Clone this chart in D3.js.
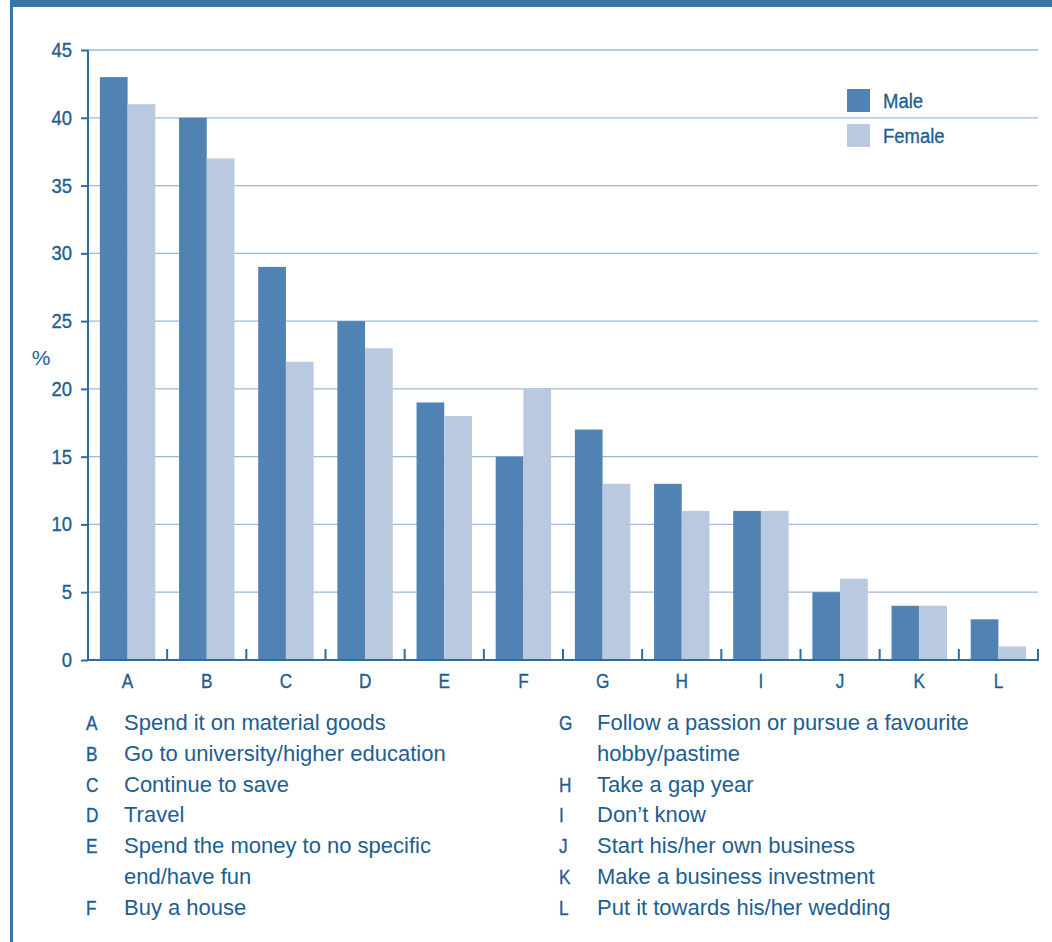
<!DOCTYPE html>
<html>
<head>
<meta charset="utf-8">
<script src="https://cdn.jsdelivr.net/npm/d3@7"></script>
<style>
  html, body { margin: 0; padding: 0; background: #fff; }
  svg { display: block; }
</style>
</head>
<body>
<svg id="chart" width="1052" height="942"></svg>
<script>
// Survey answers: what young people would do with a windfall, by gender (%)
const categories = ["A", "B", "C", "D", "E", "F", "G", "H", "I", "J", "K", "L"];
const maleValues   = [43, 40, 29, 25, 19, 15, 17, 13, 11, 5, 4, 3];
const femaleValues = [41, 37, 22, 23, 18, 20, 13, 11, 11, 6, 4, 1];
const seriesNames  = ["Male", "Female"];
const yTicks = [0, 5, 10, 15, 20, 25, 30, 35, 40, 45];

const keyLeft = [
  ["A", ["Spend it on material goods"]],
  ["B", ["Go to university/higher education"]],
  ["C", ["Continue to save"]],
  ["D", ["Travel"]],
  ["E", ["Spend the money to no specific", "end/have fun"]],
  ["F", ["Buy a house"]]
];
const keyRight = [
  ["G", ["Follow a passion or pursue a favourite", "hobby/pastime"]],
  ["H", ["Take a gap year"]],
  ["I", ["Don\u2019t know"]],
  ["J", ["Start his/her own business"]],
  ["K", ["Make a business investment"]],
  ["L", ["Put it towards his/her wedding"]]
];

const colors = { Male: "#5083b3", Female: "#b8c9e0" };
const axisColor = "#2c6ca1";
const gridColor = "#9db9da";
const textColor = "#1d5e92";
const font = "'Liberation Sans', Arial, sans-serif";

const svg = d3.select("#chart");

// condensed label: text squeezed horizontally around its anchor point
function narrowText(parent, tx, ty, str, size, anchor, sx) {
  return parent.append("text")
    .attr("transform", `translate(${tx},${ty}) scale(${sx},1)`)
    .attr("text-anchor", anchor).attr("fill", textColor)
    .attr("stroke", textColor).attr("stroke-width", 0.35)
    .style("font-family", font).style("font-size", size + "px").text(str);
}

// frame: top bar and left rule
svg.append("rect").attr("x", 10).attr("y", 0).attr("width", 1042).attr("height", 7).attr("fill", "#3a75a7");
svg.append("rect").attr("x", 10).attr("y", 0).attr("width", 3).attr("height", 942).attr("fill", "#3a75a7");

const plot = { left: 88, right: 1038, top: 50, bottom: 660 };

const x = d3.scaleBand().domain(categories).range([plot.left, plot.right]).paddingInner(0.3).paddingOuter(0.15);
const xs = d3.scaleBand().domain(seriesNames).range([0, x.bandwidth()]);
const y = d3.scaleLinear().domain([0, 45]).range([plot.bottom, plot.top]);

// horizontal grid
svg.append("g").selectAll("line").data(yTicks.filter(d => d > 0)).join("line")
  .attr("x1", plot.left).attr("x2", plot.right)
  .attr("y1", d => y(d)).attr("y2", d => y(d))
  .attr("stroke", gridColor).attr("stroke-width", 1.3);

// bars
const rows = categories.map((c, i) => ({ cat: c, Male: maleValues[i], Female: femaleValues[i] }));
const groups = svg.append("g").selectAll("g").data(rows).join("g")
  .attr("transform", d => `translate(${x(d.cat)},0)`);
groups.selectAll("rect").data(d => seriesNames.map(s => ({ s, v: d[s] }))).join("rect")
  .attr("x", d => xs(d.s)).attr("width", xs.bandwidth())
  .attr("y", d => y(d.v)).attr("height", d => y(0) - y(d.v))
  .attr("fill", d => colors[d.s]);

// y axis
const yAxis = svg.append("g").attr("transform", `translate(${plot.left},0)`)
  .call(d3.axisLeft(y).tickValues(yTicks).tickSize(7).tickFormat(""));
yAxis.select(".domain").attr("stroke", axisColor).attr("stroke-width", 2).attr("d", `M0,${plot.top}V${plot.bottom}`);
yAxis.selectAll(".tick line").attr("stroke", axisColor).attr("stroke-width", 2);
const yLabels = svg.append("g");
yTicks.forEach(t => narrowText(yLabels, 72, y(t) + 7, String(t), 21, "end", 0.88));

// x axis with boundary ticks
const xAxisG = svg.append("g").attr("transform", `translate(0,${plot.bottom})`);
xAxisG.append("line").attr("x1", plot.left).attr("x2", plot.right + 1).attr("y1", 0).attr("y2", 0)
  .attr("stroke", axisColor).attr("stroke-width", 2);
const bounds = d3.range(1, categories.length + 1).map(i => plot.left + i * (plot.right - plot.left) / categories.length);
xAxisG.selectAll("line.b").data(bounds).join("line").attr("class", "b")
  .attr("x1", d => d).attr("x2", d => d).attr("y1", -11).attr("y2", 0)
  .attr("stroke", axisColor).attr("stroke-width", 2);
categories.forEach(c => narrowText(xAxisG, x(c) + x.bandwidth() / 2, 28, c, 21, "middle", 0.82));

// y label
svg.append("text").attr("x", 41).attr("y", 365).attr("text-anchor", "middle")
  .attr("fill", textColor).style("font-family", font).style("font-size", "21px").text("%");

// legend
const legend = svg.append("g").attr("transform", "translate(847,89)");
seriesNames.forEach((s, i) => {
  legend.append("rect").attr("x", 0).attr("y", i * 35).attr("width", 23).attr("height", 23).attr("fill", colors[s]);
  narrowText(legend, 36, i * 35 + 19, s, 21, "start", 0.88);
});

// category key below the chart
function drawKey(items, lx, tx) {
  let line = 0;
  const g = svg.append("g");
  items.forEach(([code, lines]) => {
    narrowText(g, lx, 730 + line * 30.8, code, 21, "start", 0.82);
    lines.forEach(t => {
      g.append("text").attr("x", tx).attr("y", 730 + line * 30.8).attr("fill", textColor)
        .style("font-family", font).style("font-size", "22px").text(t);
      line++;
    });
  });
}
drawKey(keyLeft, 86, 124);
drawKey(keyRight, 559, 597);
</script>
</body>
</html>
